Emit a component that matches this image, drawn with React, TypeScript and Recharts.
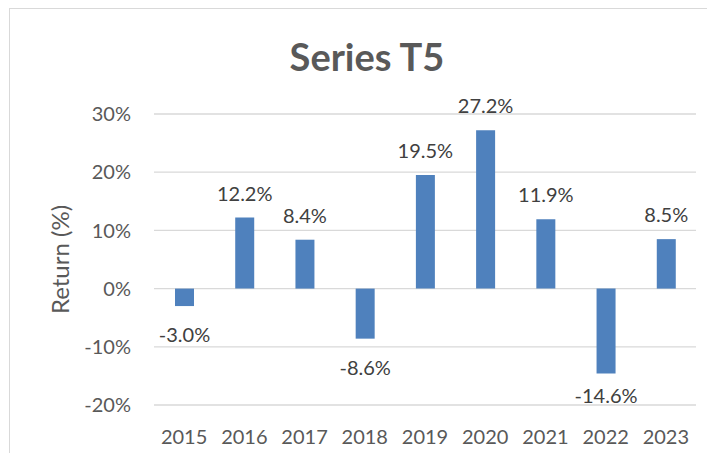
import React from "react";
import {
	BarChart,
	Bar,
	XAxis,
	YAxis,
	CartesianGrid,
	LabelList,
} from "recharts";

const years = ["2015", "2016", "2017", "2018", "2019", "2020", "2021", "2022", "2023"];
const returns = [-3.0, 12.2, 8.4, -8.6, 19.5, 27.2, 11.9, -14.6, 8.5];
const yTicks = [-20, -10, 0, 10, 20, 30];

const data = years.map((year, i) => ({ year, value: returns[i] }));

const W = 715;
const H = 461;
const margin = { top: 114, right: 19, bottom: 16, left: 54 };
const xAxisHeight = 40;
const plotBottom = H - margin.bottom - xAxisHeight;
const FONT = "Lato, 'Open Sans', sans-serif";

const renderLabel = (props: any) => {
	const { x, y, width, height, value } = props;
	const top = Math.min(y, y + height);
	const bottom = Math.max(y, y + height);
	const cx = x + width / 2;
	// Excel style: above positive bars, below negative ones, kept inside the plot
	const baseline = value >= 0 ? top - 17 : Math.min(bottom + 36, plotBottom - 2.5);
	return (
		<text
			x={cx}
			y={baseline}
			textAnchor='middle'
			fill='#404040'
			fontSize={20}
			fontFamily={FONT}>
			{`${Number(value).toFixed(1)}%`}
		</text>
	);
};

const App = () => {
	return (
		<div
			style={{
				position: "relative",
				width: W,
				height: H,
				margin: -8,
				overflow: "hidden",
				background: "#fff",
			}}>
			<div style={{ position: "absolute", left: 0, top: 0, width: 3, height: H, background: "#000" }} />
			<div
				style={{
					position: "absolute",
					left: 9,
					top: 8,
					width: 760,
					height: 520,
					border: "1.3px solid #d9d9d9",
					boxSizing: "border-box",
				}}
			/>
			<div style={{ position: "absolute", left: 0, top: 0 }}>
				<BarChart width={W} height={H} data={data} margin={margin}>
					<CartesianGrid vertical={false} stroke='#d9d9d9' strokeWidth={1.3} />
					<XAxis
						dataKey='year'
						height={xAxisHeight}
						axisLine={false}
						tickLine={false}
						tickSize={0}
						tickMargin={25}
						tick={{ fill: "#595959", fontSize: 20, fontFamily: FONT }}
						interval={0}
					/>
					<YAxis
						width={100}
						domain={[-20, 30]}
						ticks={yTicks}
						axisLine={false}
						tickLine={false}
						tickSize={0}
						tickMargin={23}
						tickFormatter={(v) => `${v}%`}
						tick={{ fill: "#595959", fontSize: 20, fontFamily: FONT }}
						label={{
							value: "Return (%)",
							angle: -90,
							position: "insideLeft",
							offset: 6,
							style: { textAnchor: "middle", fill: "#595959", fontSize: 24, fontFamily: FONT },
						}}
					/>
					<Bar dataKey='value' fill='#4f81bd' barSize={19} isAnimationActive={false}>
						<LabelList dataKey='value' content={renderLabel} />
					</Bar>
				</BarChart>
			</div>
			<svg
				width={W}
				height={100}
				style={{ position: "absolute", left: 0, top: 0, pointerEvents: "none" }}>
				<text
					x={367}
					y={71}
					textAnchor='middle'
					fill='#595959'
					fontSize={38}
					fontWeight='bold'
					fontFamily={FONT}>
					Series T5
				</text>
			</svg>
		</div>
	);
};

export default App;
